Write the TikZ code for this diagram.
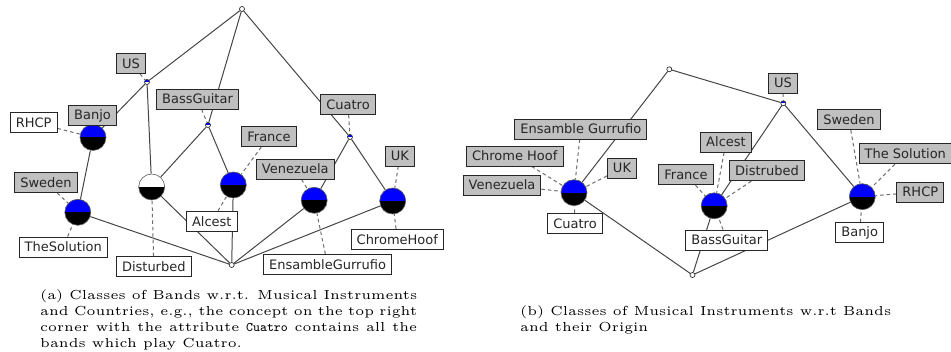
\documentclass[tikz,border=0pt]{standalone}
\usepackage{fontspec}
\newfontfamily\lblfont{DejaVu Sans}
\usetikzlibrary{backgrounds}
\definecolor{lgrey}{RGB}{192,192,192}
\definecolor{edgec}{RGB}{70,70,70}
\definecolor{dashc}{RGB}{110,110,110}
\newcommand{\capline}[1]{\makebox[143.9pt][s]{#1}}
\tikzset{
  lbl/.style={draw=black!85, line width=0.9pt, inner xsep=5.5pt, inner ysep=0pt,
    minimum height=20pt, font=\lblfont\fontsize{13}{15}\selectfont, text=black!85},
  attr/.style={lbl, fill=lgrey},
  obj/.style={lbl, fill=white},
  edge/.style={draw=edgec, line width=1pt},
  lab/.style={draw=dashc, dash pattern=on 3.5pt off 3pt, line width=1pt},
  concept/.style={circle, minimum size=26pt, inner sep=0pt, fill=black, draw=black!60, line width=0.6pt,
    path picture={\fill[blue] (path picture bounding box.west) rectangle (path picture bounding box.north east);}},
  halfw/.style={concept,
    path picture={\fill[white] (path picture bounding box.west) rectangle (path picture bounding box.north east);}},
  small/.style={circle, minimum size=5pt, inner sep=0pt, draw=black!80, line width=0.7pt, fill=white},
  smallb/.style={small,
    path picture={\fill[blue] (path picture bounding box.west) rectangle (path picture bounding box.north east);}},
  captext/.style={anchor=north west, inner sep=0pt, align=left}
}
\begin{document}
\begin{tikzpicture}[x=1pt,y=-1pt]
\useasboundingbox (0,0) rectangle (951,352);
% ---------- left lattice ----------
\node[small]  (ta)  at (242,9) {};
\node[smallb] (us)  at (147,82) {};
\node[smallb] (bg)  at (208,125) {};
\node[smallb] (cu)  at (350,137) {};
\node[concept] (cbanjo)  at (93,137.5) {};
\node[concept] (csweden) at (77.8,212.3) {};
\node[halfw]   (cdist)   at (151.7,187) {};
\node[concept] (cfrance) at (233.3,185) {};
\node[concept] (cven)    at (314.2,200.3) {};
\node[concept] (cuk)     at (392.7,201) {};
\node[small]  (bot) at (231.7,265) {};

\node[attr] (lus)     at (131,63.5) {US};
\node[attr] (lbg)     at (197.5,99) {BassGuitar};
\node[attr] (lcu)     at (348,104.5) {Cuatro};
\node[attr] (lbanjo)  at (92.5,115.5) {Banjo};
\node[obj]  (lrhcp)   at (33.7,122.3) {RHCP};
\node[attr] (lsweden) at (46,182.5) {Sweden};
\node[obj]  (lsol)    at (63.3,247) {TheSolution};
\node[obj]  (ldist)   at (153.8,266.7) {Disturbed};
\node[attr] (lfrance) at (269,136.7) {France};
\node[obj]  (lalcest) at (211.8,221.3) {Alcest};
\node[attr] (lven)    at (295.3,169) {Venezuela};
\node[obj]  (lens)    at (327.5,264.5) {EnsambleGurrufio};
\node[attr] (luk)     at (400,156) {UK};
\node[obj]  (lchrome) at (397.3,239.2) {ChromeHoof};

% ---------- right lattice ----------
\node[small]  (tb)   at (669.3,69.3) {};
\node[smallb] (usb)  at (783.3,103.3) {};
\node[concept] (ccu) at (574,192.7) {};
\node[concept] (cbgb) at (714.2,205.8) {};
\node[concept] (cbj) at (862.3,196.7) {};
\node[small]  (botb) at (692.5,275) {};

\node[attr] (rus)     at (783,83) {US};
\node[attr] (rens)    at (580.8,129) {Ensamble Gurrufio};
\node[attr] (rchrome) at (514.8,156) {Chrome Hoof};
\node[attr] (rven)    at (502,185) {Venezuela};
\node[attr] (ruk)     at (622,168.3) {UK};
\node[obj]  (rcu)     at (575,223.3) {Cuatro};
\node[attr] (rfrance) at (686,174.7) {France};
\node[attr] (ralcest) at (726,142) {Alcest};
\node[attr] (rdist)   at (767,170.7) {Distrubed};
\node[obj]  (rbg)     at (726.8,240) {BassGuitar};
\node[attr] (rsweden) at (849,119.7) {Sweden};
\node[attr] (rsol)    at (905.3,153.8) {The Solution};
\node[attr] (rrhcp)   at (920.3,192) {RHCP};
\node[obj]  (rbanjo)  at (859.7,232.7) {Banjo};

\begin{scope}[on background layer]
\fill[white] (0,0) rectangle (951,352);
% left solid edges
\draw[edge] (ta) -- (us);
\draw[edge] (ta) -- (bg);
\draw[edge] (ta) -- (cu);
\draw[edge] (us) -- (cbanjo);
\draw[edge] (us) -- (cdist);
\draw[edge] (bg) -- (cdist);
\draw[edge] (bg) -- (cfrance);
\draw[edge] (cu) -- (cven);
\draw[edge] (cu) -- (cuk);
\draw[edge] (cbanjo) -- (csweden);
\draw[edge] (csweden) -- (bot);
\draw[edge] (cdist) -- (bot);
\draw[edge] (cfrance) -- (bot);
\draw[edge] (cven) -- (bot);
\draw[edge] (cuk) -- (bot);
% left label connectors
\draw[lab] (lus) -- (us);
\draw[lab] (lbg) -- (bg);
\draw[lab] (lcu) -- (cu);
\draw[lab] (lbanjo) -- (cbanjo);
\draw[lab] (lrhcp) -- (cbanjo);
\draw[lab] (lsweden) -- (csweden);
\draw[lab] (lsol) -- (csweden);
\draw[lab] (ldist) -- (cdist);
\draw[lab] (lfrance) -- (cfrance);
\draw[lab] (lalcest) -- (cfrance);
\draw[lab] (lven) -- (cven);
\draw[lab] (lens) -- (cven);
\draw[lab] (luk) -- (cuk);
\draw[lab] (lchrome) -- (cuk);
% right solid edges
\draw[edge] (tb) -- (usb);
\draw[edge] (tb) -- (ccu);
\draw[edge] (usb) -- (cbgb);
\draw[edge] (usb) -- (cbj);
\draw[edge] (ccu) -- (botb);
\draw[edge] (cbgb) -- (botb);
\draw[edge] (cbj) -- (botb);
% right label connectors
\draw[lab] (rus) -- (usb);
\draw[lab] (rens) -- (ccu);
\draw[lab] (rchrome) -- (ccu);
\draw[lab] (rven) -- (ccu);
\draw[lab] (ruk) -- (ccu);
\draw[lab] (rcu) -- (ccu);
\draw[lab] (rfrance) -- (cbgb);
\draw[lab] (ralcest) -- (cbgb);
\draw[lab] (rdist) -- (cbgb);
\draw[lab] (rbg) -- (cbgb);
\draw[lab] (rsweden) -- (cbj);
\draw[lab] (rsol) -- (cbj);
\draw[lab] (rrhcp) -- (cbj);
\draw[lab] (rbanjo) -- (cbj);
\end{scope}

% ---------- captions ----------
\node[captext] (capa) at (40,288.5) {\scalebox{2.62}{\fontsize{5}{6.1}\selectfont\begin{tabular}{@{}l@{}}
\capline{(a) Classes of Bands w.r.t. Musical Instruments}\\
\capline{and Countries, e.g., the concept on the top right}\\
\capline{corner with the attribute \texttt{Cuatro} contains all the}\\
bands which play Cuatro.\end{tabular}}};
\node[captext] (capb) at (520,304.2) {\scalebox{2.62}{\fontsize{5}{6.1}\selectfont\begin{tabular}{@{}l@{}}
(b) Classes of Musical Instruments w.r.t Bands\\
and their Origin\end{tabular}}};
\end{tikzpicture}
\end{document}
